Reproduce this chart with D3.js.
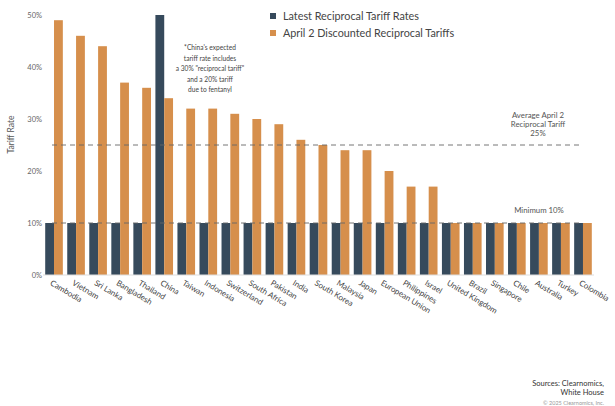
<!DOCTYPE html>
<html><head><meta charset="utf-8">
<script src="https://cdn.jsdelivr.net/npm/d3@7"></script>
<style>body{margin:0;background:#fff;} svg{display:block;font-family:Lato, "Open Sans", sans-serif;}</style>
</head><body>
<svg id="c" width="615" height="406"></svg>
<script>
const categories = ["Cambodia","Vietnam","Sri Lanka","Bangladesh","Thailand","China","Taiwan","Indonesia","Switzerland","South Africa","Pakistan","India","South Korea","Malaysia","Japan","European Union","Philippines","Israel","United Kingdom","Brazil","Singapore","Chile","Australia","Turkey","Colombia"];
const latestRates = [10,10,10,10,10,50,10,10,10,10,10,10,10,10,10,10,10,10,10,10,10,10,10,10,10];
const april2Rates = [49,46,44,37,36,34,32,32,31,30,29,26,25,24,24,20,17,17,10,10,10,10,10,10,10];
const seriesNames = ["Latest Reciprocal Tariff Rates","April 2 Discounted Reciprocal Tariffs"];
const yTicks = [0,10,20,30,40,50];
const avgLine = 25, minLine = 10;
const chinaNote = ["*China's expected","tariff rate includes","a 30% \"reciprocal tariff\"","and a 20% tariff","due to fentanyl"];

const navy = "#364a5c", orange = "#d68f4c";
const svg = d3.select("#c");
const x = d3.scaleBand().domain(categories).range([43, 594]).paddingInner(0.2).paddingOuter(0.1);
const xs = d3.scaleBand().domain([0,1]).range([0, x.bandwidth()]);
const y = d3.scaleLinear().domain([0,50]).range([275, 15]);

// y axis labels
svg.append("g").selectAll("text").data(yTicks).join("text")
  .attr("x", 42).attr("y", d => y(d)).attr("dy", "0.35em")
  .attr("text-anchor", "end").attr("font-size", 7.5).attr("fill", "#666")
  .text(d => d + "%");
svg.append("text").attr("transform", `translate(14,${y(27)}) rotate(-90)`)
  .attr("text-anchor", "middle").attr("font-size", 8.5).attr("fill", "#555").text("Tariff Rate");

// bars
const g = svg.append("g");
categories.forEach((c, i) => {
  [latestRates[i], april2Rates[i]].forEach((v, j) => {
    g.append("rect").attr("x", x(c) + xs(j)).attr("width", xs.bandwidth())
      .attr("y", y(v)).attr("height", y(0) - y(v)).attr("fill", j ? orange : navy);
  });
});

// baseline
svg.append("line").attr("x1", 43).attr("x2", 594).attr("y1", y(0)).attr("y2", y(0))
  .attr("stroke", "#ddd").attr("stroke-width", 1.2);

// dashed reference lines
[avgLine, minLine].forEach(v => {
  svg.append("line").attr("x1", 52).attr("x2", 582).attr("y1", y(v)).attr("y2", y(v))
    .attr("stroke", "#666").attr("stroke-width", 0.9).attr("stroke-dasharray", "5,4");
});

// annotations
const ann = svg.append("g").attr("font-size", 7.8).attr("fill", "#555").attr("text-anchor", "middle");
["Average April 2","Reciprocal Tariff", avgLine + "%"].forEach((t, i) =>
  ann.append("text").attr("x", 538).attr("y", 117.5 + i * 9).text(t));
ann.append("text").attr("x", 539).attr("y", y(minLine) - 10).text("Minimum " + minLine + "%");
const cn = svg.append("g").attr("font-size", 6.6).attr("fill", "#444").attr("text-anchor", "middle");
chinaNote.forEach((t, i) => cn.append("text").attr("x", 210).attr("y", 50 + i * 10.6).text(t));

// legend
const lg = svg.append("g");
seriesNames.forEach((s, i) => {
  lg.append("rect").attr("x", 270).attr("y", 13 + i * 17).attr("width", 6).attr("height", 6)
    .attr("fill", i ? orange : navy);
  lg.append("text").attr("x", 283).attr("y", 16 + i * 17).attr("dy", "0.35em")
    .attr("font-size", 10.8).attr("fill", "#444").text(s);
});

// x labels
svg.append("g").selectAll("text").data(categories).join("text")
  .attr("transform", d => `translate(${x(d) + x.bandwidth() / 2 - 3},${y(0) + 7}) rotate(31)`)
  .attr("font-size", 8).attr("fill", "#444").attr("dy", "0.35em")
  .text(d => d);

// sources
const src = svg.append("g").attr("text-anchor", "end").attr("fill", "#333");
src.append("text").attr("x", 604).attr("y", 386).attr("font-size", 7.5).text("Sources: Clearnomics,");
src.append("text").attr("x", 604).attr("y", 395).attr("font-size", 7.5).text("White House");
src.append("text").attr("x", 604).attr("y", 405).attr("font-size", 5.5).attr("fill", "#999").text("© 2025 Clearnomics, Inc.");
</script>
</body></html>
